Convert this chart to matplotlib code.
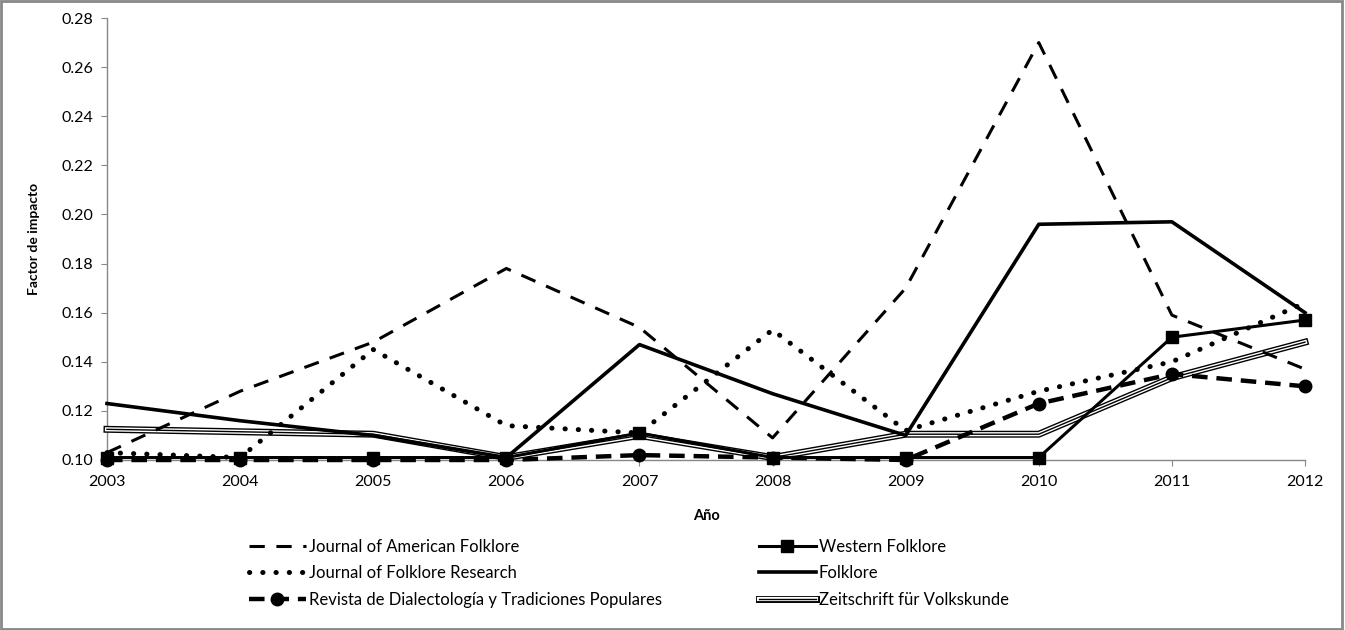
import matplotlib
matplotlib.use("Agg")
import matplotlib.pyplot as plt
from matplotlib.patches import Rectangle

years = [2003, 2004, 2005, 2006, 2007, 2008, 2009, 2010, 2011, 2012]
jaf = [0.103, 0.128, 0.148, 0.178, 0.154, 0.109, 0.170, 0.270, 0.159, 0.137]
jfr = [0.103, 0.101, 0.145, 0.114, 0.111, 0.153, 0.112, 0.128, 0.140, 0.164]
revista = [0.100, 0.100, 0.100, 0.100, 0.102, 0.101, 0.100, 0.123, 0.135, 0.130]
western = [0.101, 0.101, 0.101, 0.101, 0.111, 0.101, 0.101, 0.101, 0.150, 0.157]
folklore = [0.123, 0.116, 0.110, 0.101, 0.147, 0.127, 0.110, 0.196, 0.197, 0.160]
zeitschrift = [0.1125, 0.1115, 0.1105, 0.101, 0.110, 0.101, 0.1105, 0.1105, 0.1335, 0.148]
yticks = [0.10, 0.12, 0.14, 0.16, 0.18, 0.20, 0.22, 0.24, 0.26, 0.28]

plt.rcParams['font.family'] = ['Lato', 'DejaVu Sans']

fig = plt.figure(figsize=(13.45, 6.3), dpi=100)
ax = fig.add_axes([107/1345, 1 - 460/630, (1305-107)/1345, (460-18)/630])

# Zeitschrift compound (triple) line
z1, = ax.plot(years, zeitschrift, color='black', lw=5.0, solid_joinstyle='miter', clip_on=False, zorder=3)
z2, = ax.plot(years, zeitschrift, color='white', lw=3.0, solid_joinstyle='miter', clip_on=False, zorder=3.1)
z3, = ax.plot(years, zeitschrift, color='black', lw=1.0, solid_joinstyle='miter', clip_on=False, zorder=3.2)

l_jaf, = ax.plot(years, jaf, color='black', lw=2.2, dashes=(5, 3.8), clip_on=False, zorder=4,
                 label='Journal of American Folklore')
l_jfr, = ax.plot(years, jfr, color='black', lw=3.6, dashes=(0.05, 2.6), dash_capstyle='round',
                 clip_on=False, zorder=4, label='Journal of Folklore Research')
l_rev, = ax.plot(years, revista, color='black', lw=3.2, dashes=(3.5, 2.0), marker='o', markersize=9,
                 clip_on=False, zorder=5, label='Revista de Dialectología y Tradiciones Populares')
l_wes, = ax.plot(years, western, color='black', lw=2.2, marker='s', markersize=8,
                 clip_on=False, zorder=5, label='Western Folklore')
l_fol, = ax.plot(years, folklore, color='black', lw=2.6, clip_on=False, zorder=4, label='Folklore')

ax.set_xlim(2003, 2012)
ax.set_ylim(0.10, 0.28)
ax.set_xticks(years)
ax.set_xticklabels([str(y) for y in years])
ax.set_yticks(yticks)
ax.set_yticklabels(['%.2f' % v for v in yticks])
for s in ['top', 'right']:
    ax.spines[s].set_visible(False)
for s in ['left', 'bottom']:
    ax.spines[s].set_color('#888888')
    ax.spines[s].set_linewidth(1.0)
ax.tick_params(axis='both', direction='out', length=4, color='#888888', labelsize=11.5, labelcolor='black')
ax.tick_params(axis='x', pad=7)
ax.tick_params(axis='y', pad=6)

ax.set_ylabel('Factor de impacto', fontsize=10, fontweight='bold', labelpad=15)
ax.set_xlabel('Año', fontsize=10.5, fontweight='bold', labelpad=14)

leg_kw = dict(frameon=False, fontsize=12, handlelength=3.4, handletextpad=0.2, labelspacing=0.62,
              borderpad=0, borderaxespad=0, loc='upper left')
leg1 = fig.legend([l_jaf, l_jfr, l_rev], [l_jaf.get_label(), l_jfr.get_label(), l_rev.get_label()],
                  bbox_to_anchor=(249/1345, 1 - 539/630), **leg_kw)
leg2 = fig.legend([l_wes, l_fol, (z1, z2, z3)], [l_wes.get_label(), l_fol.get_label(), 'Zeitschrift für Volkskunde'],
                  bbox_to_anchor=(759/1345, 1 - 539/630), **leg_kw)

fig.patches.append(Rectangle((0.001, 0.002), 0.997, 0.996, transform=fig.transFigure,
                             fill=False, edgecolor='#888888', lw=2))

fig.savefig('out.png', dpi=100, facecolor='white')
